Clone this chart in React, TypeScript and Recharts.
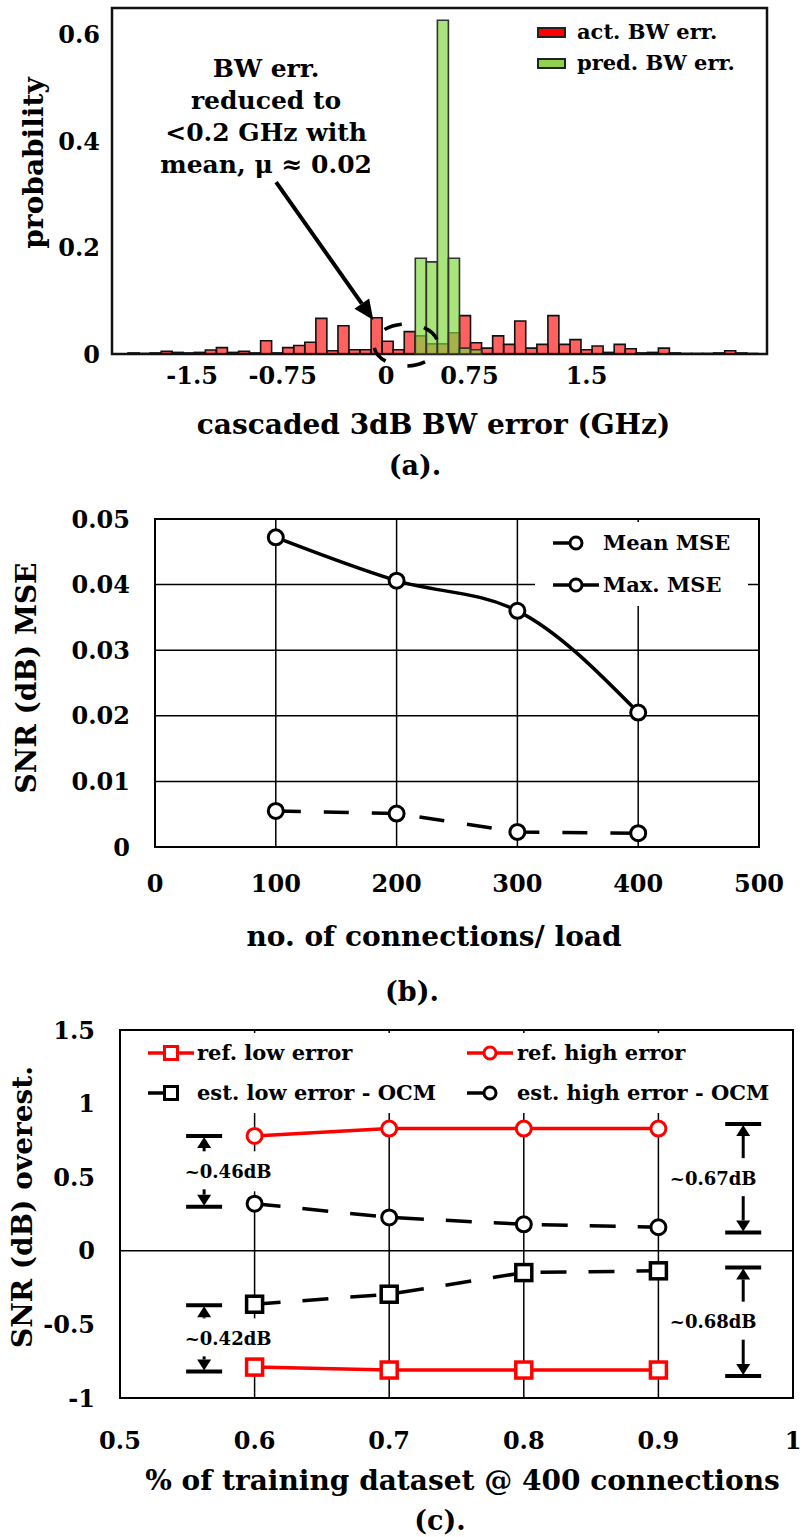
import React from 'react';
import {
  BarChart, Bar, LineChart, Line, XAxis, YAxis, CartesianGrid, Legend,
  ReferenceArea, ReferenceLine, ReferenceDot,
} from 'recharts';

const FONT = "'DejaVu Serif', serif";
const RED = '#ff0000';

// (a) histogram, 57 bins of cascaded 3dB BW error
const actBwErr = [
  0.002, 0.001, 0.002, 0.005, 0.003, 0.002, 0.003, 0.0075, 0.012, 0.003,
  0.005, 0.002, 0.025, 0.002, 0.012, 0.016, 0.022, 0.067, 0.006, 0.053,
  0.008, 0.008, 0.068, 0.024, 0.008, 0.042, 0.034, 0.019, 0.019, 0.04,
  0.072, 0.021, 0.011, 0.034, 0.018, 0.062, 0.011, 0.018, 0.072, 0.018,
  0.027, 0.008, 0.015, 0.003, 0.018, 0.01, 0.002, 0.003, 0.011, 0.002,
  0.001, 0.001, 0.001, 0.002, 0.006, 0.002, 0.001,
];
const predBwErr = [
  null, null, null, null, null, null, null, null, null, null,
  null, null, null, null, null, null, null, null, null, null,
  null, null, null, null, null, null, 0.18, 0.173, 0.627, 0.18,
  0.011, 0.008, null, null, null, null, null, null, null, null,
  null, null, null, null, null, null, null, null, null, null,
  null, null, null, null, null, null, null,
];
const bwTickPos = [5.3, 13.5, 22.85, 30.4, 41];
const bwTickLabels = ['-1.5', '-0.75', '0', '0.75', '1.5'];
const probTicks = [0, 0.2, 0.4, 0.6];
const calloutLines = ['BW err.', 'reduced to', '<0.2 GHz with', 'mean, μ ≈ 0.02'];

// (b) SNR MSE vs load
const connections = [100, 200, 300, 400];
const meanMse = [0.0055, 0.0051, 0.0023, 0.0021];
const maxMse = [0.0472, 0.0406, 0.036, 0.0205];
const connTicks = [0, 100, 200, 300, 400, 500];
const mseTicks = [0, 0.01, 0.02, 0.03, 0.04, 0.05];

// (c) SNR overestimation vs training share
const trainShare = [0.6, 0.7, 0.8, 0.9];
const refLow = [-0.79, -0.81, -0.81, -0.81];
const refHigh = [0.78, 0.83, 0.83, 0.83];
const estLow = [-0.363, -0.295, -0.148, -0.136];
const estHigh = [0.32, 0.227, 0.18, 0.16];
const shareTicks = [0.5, 0.6, 0.7, 0.8, 0.9, 1];
const overTicks = [-1, -0.5, 0, 0.5, 1, 1.5];
const gapNotes = [
  { x: 0.5625, top: 0.78, bottom: 0.3, text: '~0.46dB' },
  { x: 0.5625, top: -0.37, bottom: -0.82, text: '~0.42dB' },
  { x: 0.963, top: 0.862, bottom: 0.125, text: '~0.67dB' },
  { x: 0.963, top: -0.113, bottom: -0.85, text: '~0.68dB' },
];

const histData = actBwErr.map((v, i) => ({ bin: i, act: v, pred: predBwErr[i] }));
const mseData = connections.map((c, i) => ({ conn: c, mean: meanMse[i], max: maxMse[i] }));
const ocmData = trainShare.map((x, i) => ({
  x, refLow: refLow[i], refHigh: refHigh[i], estLow: estLow[i], estHigh: estHigh[i],
}));

const tickStyle = { fill: '#000', fontSize: 24, fontWeight: 'bold', fontFamily: FONT };
const labelStyle = { fill: '#000', fontSize: 28, fontWeight: 'bold', fontFamily: FONT };

function arrow(x1: number, y1: number, x2: number, y2: number, head: number, half: number, w: number) {
  const len = Math.hypot(x2 - x1, y2 - y1) || 1;
  const ux = (x2 - x1) / len;
  const uy = (y2 - y1) / len;
  const bx = x2 - ux * head;
  const by = y2 - uy * head;
  return (
    <g>
      <line x1={x1} y1={y1} x2={bx} y2={by} stroke="#000" strokeWidth={w} />
      <polygon
        points={`${x2},${y2} ${bx - uy * half},${by + ux * half} ${bx + uy * half},${by - ux * half}`}
        fill="#000"
      />
    </g>
  );
}

function Callout(p: any) {
  const { x1, y1, x2, y2 } = p;
  return (
    <g>
      {calloutLines.map((t, i) => (
        <text key={i} x={x1 - 10} y={y1 - 114 + i * 32} textAnchor="middle" dominantBaseline="central"
          fontFamily={FONT} fontWeight="bold" fontSize={25} fill="#000">{t}</text>
      ))}
      {arrow(x1, y1, x2, y2, 20, 9, 4)}
    </g>
  );
}

function DashedRing(p: any) {
  return (
    <ellipse cx={p.cx} cy={p.cy} rx={32} ry={21} fill="none" stroke="#000" strokeWidth={3.5}
      strokeDasharray="18 22.5" strokeDashoffset={18} />
  );
}

function gapShape(text: string, rightSide: boolean) {
  return (p: any) => {
    const cx = p.x1;
    const top = Math.min(p.y1, p.y2);
    const bot = Math.max(p.y1, p.y2);
    const mid = (top + bot) / 2;
    const tx = cx + (rightSide ? -30 : 24);
    return (
      <g>
        <rect x={tx - 52} y={mid - 20} width={104} height={40} fill="#fff" />
        <line x1={cx - 18} x2={cx + 18} y1={top} y2={top} stroke="#000" strokeWidth={4} />
        <line x1={cx - 18} x2={cx + 18} y1={bot} y2={bot} stroke="#000" strokeWidth={4} />
        {arrow(cx, mid - 20, cx, top + 1, 11, 7, 3)}
        {arrow(cx, mid + 18, cx, bot - 1, 11, 7, 3)}
        <text x={tx} y={mid} textAnchor="middle" dominantBaseline="central" fontFamily={FONT}
          fontWeight="bold" fontSize={18} fill="#000">{text}</text>
      </g>
    );
  };
}

function ringDot(color: string, r: number) {
  return (p: any) => (
    <circle key={`c${p.index}`} cx={p.cx} cy={p.cy} r={r} fill="#fff" stroke={color} strokeWidth={3} />
  );
}
function squareDot(color: string, s: number) {
  return (p: any) => (
    <rect key={`s${p.index}`} x={p.cx - s / 2} y={p.cy - s / 2} width={s} height={s}
      fill="#fff" stroke={color} strokeWidth={3.5} />
  );
}

function Marker({ color, kind, full }: { color: string; kind: 'circle' | 'square'; full: boolean }) {
  return (
    <svg width={48} height={22} style={{ display: 'block' }}>
      <line x1={0} y1={11} x2={full ? 46 : 16} y2={11} stroke={color} strokeWidth={3.5} />
      {kind === 'circle'
        ? <circle cx={23} cy={11} r={6} fill="#fff" stroke={color} strokeWidth={3} />
        : <rect x={16.5} y={4.5} width={13} height={13} fill="#fff" stroke={color} strokeWidth={3} />}
    </svg>
  );
}

const legendText: React.CSSProperties = {
  position: 'absolute', fontFamily: FONT, fontWeight: 'bold', color: '#000', whiteSpace: 'nowrap',
};

function HistLegend(props: any) {
  const items = (props.payload || []).filter((it: any) => it.value);
  return (
    <div style={{ position: 'relative', width: 250, height: 70 }}>
      {items.map((it: any, i: number) => (
        <div key={it.value}>
          <div style={{
            position: 'absolute', left: 7, top: 12 + i * 31 - 5, width: 25, height: 7,
            background: i === 0 ? RED : '#92d050', border: '2px solid #222',
          }} />
          <div style={{ ...legendText, left: 47, top: 12 + i * 31 - 14, fontSize: 21, lineHeight: '28px' }}>
            {it.value}
          </div>
        </div>
      ))}
    </div>
  );
}

function MseLegend() {
  const rows = [
    { name: 'Mean MSE', full: false },
    { name: 'Max. MSE', full: true },
  ];
  return (
    <div style={{ position: 'relative', width: 213, height: 84, background: '#fff' }}>
      {rows.map((r, i) => (
        <div key={r.name}>
          <div style={{ position: 'absolute', left: 18, top: 21 + i * 42 - 11 }}>
            <Marker color="#000" kind="circle" full={r.full} />
          </div>
          <div style={{ ...legendText, left: 68, top: 21 + i * 42 - 14, fontSize: 21, lineHeight: '28px' }}>
            {r.name}
          </div>
        </div>
      ))}
    </div>
  );
}

const ocmSeries = [
  { key: 'refLow', name: 'ref. low error', color: RED, kind: 'square' as const, dashed: false, col: 0, row: 0 },
  { key: 'refHigh', name: 'ref. high error', color: RED, kind: 'circle' as const, dashed: false, col: 1, row: 0 },
  { key: 'estLow', name: 'est. low error - OCM', color: '#000', kind: 'square' as const, dashed: true, col: 0, row: 1 },
  { key: 'estHigh', name: 'est. high error - OCM', color: '#000', kind: 'circle' as const, dashed: true, col: 1, row: 1 },
];

function OcmLegend() {
  return (
    <div style={{ position: 'relative', width: 658, height: 80, background: '#fff' }}>
      {ocmSeries.map((s) => (
        <div key={s.key}>
          <div style={{ position: 'absolute', left: 18 + s.col * 319, top: 20 + s.row * 40 - 11 }}>
            <Marker color={s.color} kind={s.kind} full={!s.dashed} />
          </div>
          <div style={{ ...legendText, left: 67 + s.col * 320, top: 20 + s.row * 40 - 14, fontSize: 21, lineHeight: '28px' }}>
            {s.name}
          </div>
        </div>
      ))}
    </div>
  );
}

const caption: React.CSSProperties = {
  position: 'absolute', width: 200, height: 32, lineHeight: '32px', textAlign: 'center',
  fontFamily: FONT, fontWeight: 'bold', fontSize: 27, color: '#000',
};

export default function App() {
  return (
    <div style={{ position: 'absolute', left: 0, top: 0, width: 803, height: 1537, background: '#fff' }}>
      {/* (a) */}
      <div style={{ position: 'absolute', left: 0, top: 0 }}>
        <BarChart width={803} height={440} data={histData} barCategoryGap={0} barGap={0}
          margin={{ top: 8, right: 36, left: 0, bottom: 0 }}>
          <XAxis xAxisId="act" type="number" dataKey="bin" domain={[-1.95, 57.33]} ticks={bwTickPos}
            tickFormatter={(_v: any, i: number) => bwTickLabels[i]} interval={0} height={86}
            axisLine={false} tickLine={false} tickSize={0} tickMargin={13} tick={tickStyle}
            label={{ value: 'cascaded 3dB BW error (GHz)', position: 'insideBottom', offset: 6, dx: -6, ...labelStyle }} />
          <XAxis xAxisId="pred" type="number" dataKey="bin" domain={[-1.95, 57.33]} hide />
          <YAxis domain={[0, 0.65]} ticks={probTicks} width={112} interval={0} axisLine={false}
            tickLine={false} tickSize={0} tickMargin={12} tick={tickStyle}
            label={{ value: 'probability', angle: -90, position: 'insideLeft', offset: 33, dy: -18,
              style: { textAnchor: 'middle' }, ...labelStyle }} />
          <Bar xAxisId="act" dataKey="act" name="act. BW err." fill={RED} fillOpacity={0.62}
            stroke="#111" strokeWidth={1.6} isAnimationActive={false} />
          <Bar xAxisId="pred" dataKey="pred" name="pred. BW err." fill="#80d83c" fillOpacity={0.68}
            stroke="#333" strokeWidth={1.6} isAnimationActive={false} />
          <ReferenceArea xAxisId="act" y1={0} y2={0.65} fill="none" stroke="#111" strokeWidth={2.5}
            ifOverflow="visible" />
          <ReferenceDot xAxisId="act" x={24.66} y={0.017} ifOverflow="visible" shape={DashedRing} />
          <ReferenceLine xAxisId="act" segment={[{ x: 12.9, y: 0.323 }, { x: 21.7, y: 0.064 }]}
            ifOverflow="visible" shape={Callout} />
          <Legend layout="horizontal" verticalAlign="middle" align="center" content={HistLegend}
            wrapperStyle={{ position: 'absolute', left: 530, top: 20, width: 250, height: 70 }} />
        </BarChart>
      </div>
      <div style={{ ...caption, left: 315, top: 450 }}>(a).</div>

      {/* (b) */}
      <div style={{ position: 'absolute', left: 0, top: 490 }}>
        <LineChart width={803} height={470} data={mseData} margin={{ top: 29, right: 44, left: 0, bottom: 0 }}>
          <CartesianGrid stroke="#000" strokeWidth={1.5} />
          <XAxis type="number" dataKey="conn" domain={[0, 500]} ticks={connTicks} interval={0} height={113}
            axisLine={false} tickLine={false} tickSize={0} tickMargin={28} tick={tickStyle}
            label={{ value: 'no. of connections/ load', position: 'insideBottom', offset: 14, dx: -23, ...labelStyle }} />
          <YAxis domain={[0, 0.05]} ticks={mseTicks} width={155} interval={0} axisLine={false}
            tickLine={false} tickSize={0} tickMargin={25} tick={tickStyle}
            label={{ value: 'SNR (dB) MSE', angle: -90, position: 'insideLeft', offset: 26, dy: -5,
              style: { textAnchor: 'middle' }, ...labelStyle }} />
          <Line type="linear" dataKey="mean" name="Mean MSE" stroke="#000" strokeWidth={3.5}
            strokeDasharray="25 23" dot={ringDot('#000', 7.5)} isAnimationActive={false} />
          <Line type="monotone" dataKey="max" name="Max. MSE" stroke="#000" strokeWidth={3.5}
            dot={ringDot('#000', 7.5)} isAnimationActive={false} />
          <ReferenceArea y1={0} y2={0.05} fill="none" stroke="#000" strokeWidth={2} ifOverflow="visible" />
          <Legend layout="horizontal" verticalAlign="middle" align="center" content={MseLegend}
            wrapperStyle={{ position: 'absolute', left: 535, top: 32, width: 213, height: 84 }} />
        </LineChart>
      </div>
      <div style={{ ...caption, left: 312, top: 976 }}>(b).</div>

      {/* (c) */}
      <div style={{ position: 'absolute', left: 0, top: 1000 }}>
        <LineChart width={803} height={537} data={ocmData} margin={{ top: 30, right: 10, left: 0, bottom: 0 }}>
          <CartesianGrid stroke="#000" strokeWidth={1.5} horizontal={false} />
          <XAxis type="number" dataKey="x" domain={[0.5, 1]} ticks={shareTicks} interval={0} height={139}
            axisLine={false} tickLine={false} tickSize={0} tickMargin={34} tick={tickStyle}
            label={{ value: '% of training dataset @ 400 connections', position: 'insideBottom', offset: 47, dx: 6, ...labelStyle }} />
          <YAxis domain={[-1, 1.5]} ticks={overTicks} width={120} interval={0} axisLine={false}
            tickLine={false} tickSize={0} tickMargin={25} tick={tickStyle}
            label={{ value: 'SNR (dB) overest.', angle: -90, position: 'insideLeft', offset: 22, dy: -7,
              style: { textAnchor: 'middle' }, ...labelStyle }} />
          <ReferenceLine y={0} stroke="#000" strokeWidth={1.5} />
          {gapNotes.map((n) => (
            <ReferenceLine key={n.text} segment={[{ x: n.x, y: n.top }, { x: n.x, y: n.bottom }]}
              ifOverflow="visible" shape={gapShape(n.text, n.x > 0.75)} />
          ))}
          {ocmSeries.map((s) => (
            <Line key={s.key} type="linear" dataKey={s.key} name={s.name} stroke={s.color} strokeWidth={3.5}
              strokeDasharray={s.dashed ? '26 22' : undefined}
              dot={s.kind === 'circle' ? ringDot(s.color, 7.5) : squareDot(s.color, 16)}
              isAnimationActive={false} />
          ))}
          <ReferenceArea y1={-1} y2={1.5} fill="none" stroke="#000" strokeWidth={2} ifOverflow="visible" />
          <Legend layout="horizontal" verticalAlign="middle" align="center" content={OcmLegend}
            wrapperStyle={{ position: 'absolute', left: 130, top: 33, width: 658, height: 80 }} />
        </LineChart>
      </div>
      <div style={{ ...caption, left: 340, top: 1505 }}>(c).</div>
    </div>
  );
}
